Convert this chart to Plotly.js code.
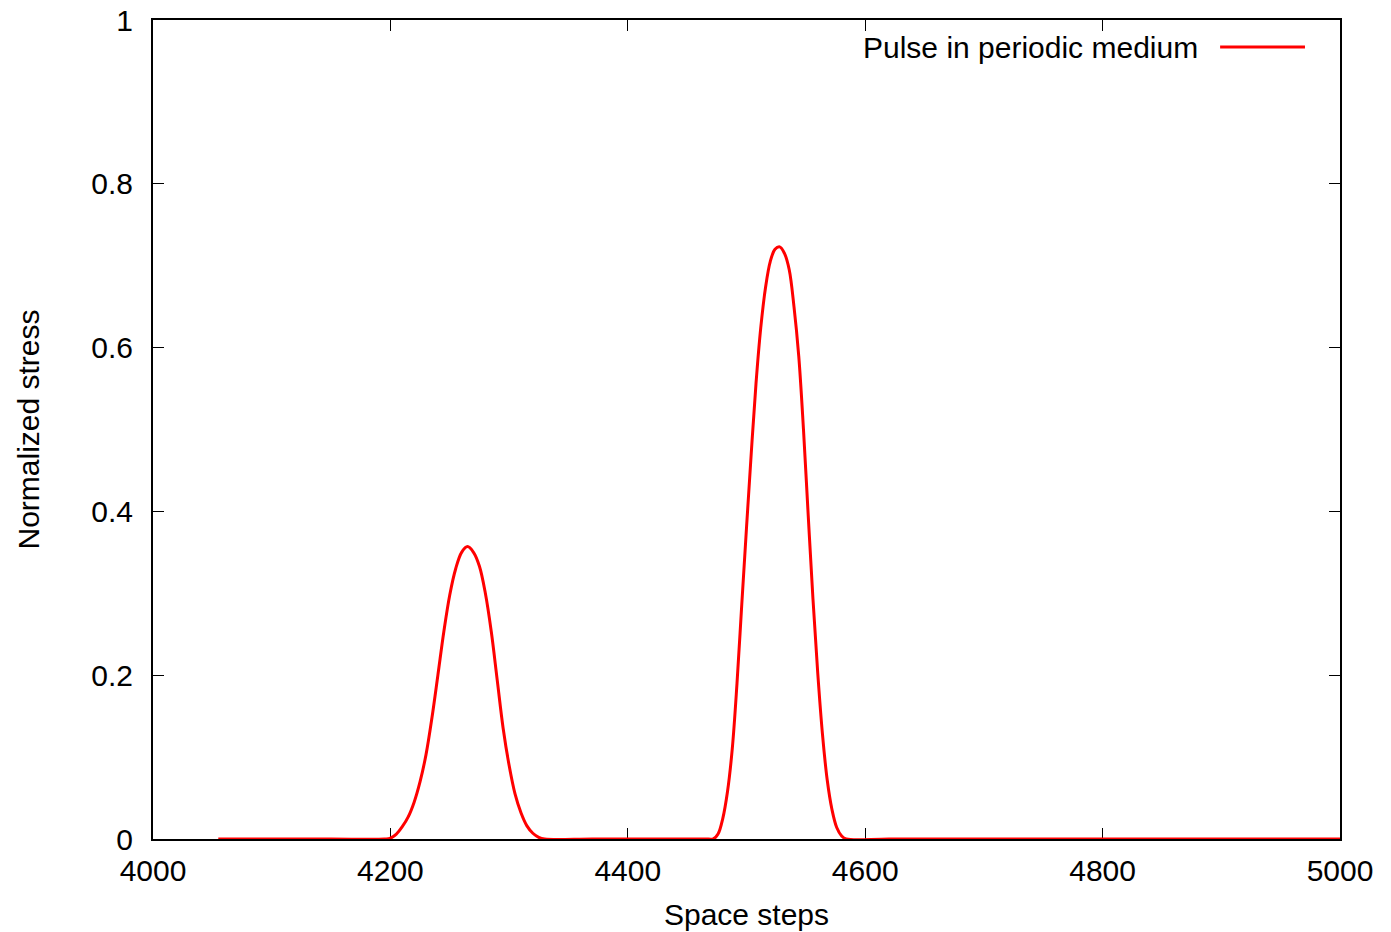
<!DOCTYPE html>
<html>
<head>
<meta charset="utf-8">
<script src="https://cdn.plot.ly/plotly-3.0.1.min.js"></script>
<style>html,body{margin:0;padding:0;background:#fff;}#chart{width:1391px;height:932px;}</style>
</head>
<body>
<div id="chart"></div>
<script>
// Space steps (x) and normalized stress (y)
const spaceSteps = [
  4055, 4100, 4150, 4195,
  4200, 4205, 4210, 4215, 4220, 4225, 4230, 4235, 4240, 4245, 4250, 4255, 4260, 4265,
  4270, 4275, 4280, 4285, 4290, 4295, 4300, 4305, 4310, 4315, 4320, 4325, 4330,
  4370, 4420, 4468,
  4472, 4476, 4480, 4484, 4488, 4492, 4496, 4500, 4504, 4508, 4512, 4516, 4520, 4524, 4528,
  4532, 4536, 4540, 4544, 4548, 4552, 4556, 4560, 4564, 4568, 4572, 4576, 4580, 4584,
  4620, 4700, 4800, 4900, 5000
];
const normalizedStress = [
  0, 0, 0, 0,
  0.001, 0.006, 0.015, 0.027, 0.045, 0.070, 0.103, 0.148, 0.200, 0.253, 0.298, 0.330, 0.350, 0.357,
  0.350, 0.333, 0.300, 0.253, 0.194, 0.135, 0.090, 0.055, 0.032, 0.016, 0.007, 0.002, 0,
  0, 0, 0,
  0, 0.006, 0.025, 0.058, 0.110, 0.190, 0.286, 0.380, 0.471, 0.556, 0.624, 0.673, 0.705, 0.720, 0.723,
  0.715, 0.695, 0.650, 0.590, 0.500, 0.395, 0.293, 0.203, 0.128, 0.072, 0.036, 0.014, 0.004, 0,
  0, 0, 0, 0, 0
];
const xTicks = [4000, 4200, 4400, 4600, 4800, 5000];
const yTicks = [0, 0.2, 0.4, 0.6, 0.8, 1];
const yTickLabels = ["0", "0.2", "0.4", "0.6", "0.8", "1"];
const seriesName = "Pulse in periodic medium";

const font = {family: "Liberation Sans, Arial, sans-serif", size: 30, color: "#000"};

const trace = {
  x: spaceSteps,
  y: normalizedStress,
  type: "scatter",
  mode: "lines",
  name: seriesName,
  line: {color: "#ff0000", width: 3, shape: "spline", smoothing: 1},
  showlegend: false
};

const layout = {
  width: 1391, height: 932,
  margin: {l: 153, r: 51, t: 20, b: 93},
  paper_bgcolor: "#fff", plot_bgcolor: "#fff",
  font: font,
  showlegend: false,
  xaxis: {
    range: [4000, 5000], tickvals: xTicks, ticktext: xTicks.map(String),
    ticks: "inside", ticklen: 11, tickwidth: 1.2, tickcolor: "#000",
    showline: true, linecolor: "#000", linewidth: 2, mirror: "ticks",
    showgrid: false, zeroline: false, layer: "below traces",
    tickfont: font, ticklabelstandoff: 4,
    title: {text: "Space steps", font: font, standoff: 18}
  },
  yaxis: {
    range: [0, 1], tickvals: yTicks, ticktext: yTickLabels,
    ticks: "inside", ticklen: 11, tickwidth: 1.2, tickcolor: "#000",
    showline: true, linecolor: "#000", linewidth: 2, mirror: "ticks",
    showgrid: false, zeroline: false, layer: "below traces",
    tickfont: font, ticklabelstandoff: 12,
    title: {text: "Normalized stress", font: font, standoff: 43}
  },
  annotations: [{
    xref: "paper", yref: "paper", x: 0.882, y: 0.967,
    xanchor: "right", yanchor: "middle", showarrow: false,
    text: seriesName, font: font
  }],
  shapes: [{
    type: "line", xref: "paper", yref: "paper",
    x0: 0.899, x1: 0.9705, y0: 0.967, y1: 0.967,
    line: {color: "#ff0000", width: 3}
  }]
};

Plotly.newPlot("chart", [trace], layout, {displayModeBar: false, staticPlot: true});
</script>
</body>
</html>
